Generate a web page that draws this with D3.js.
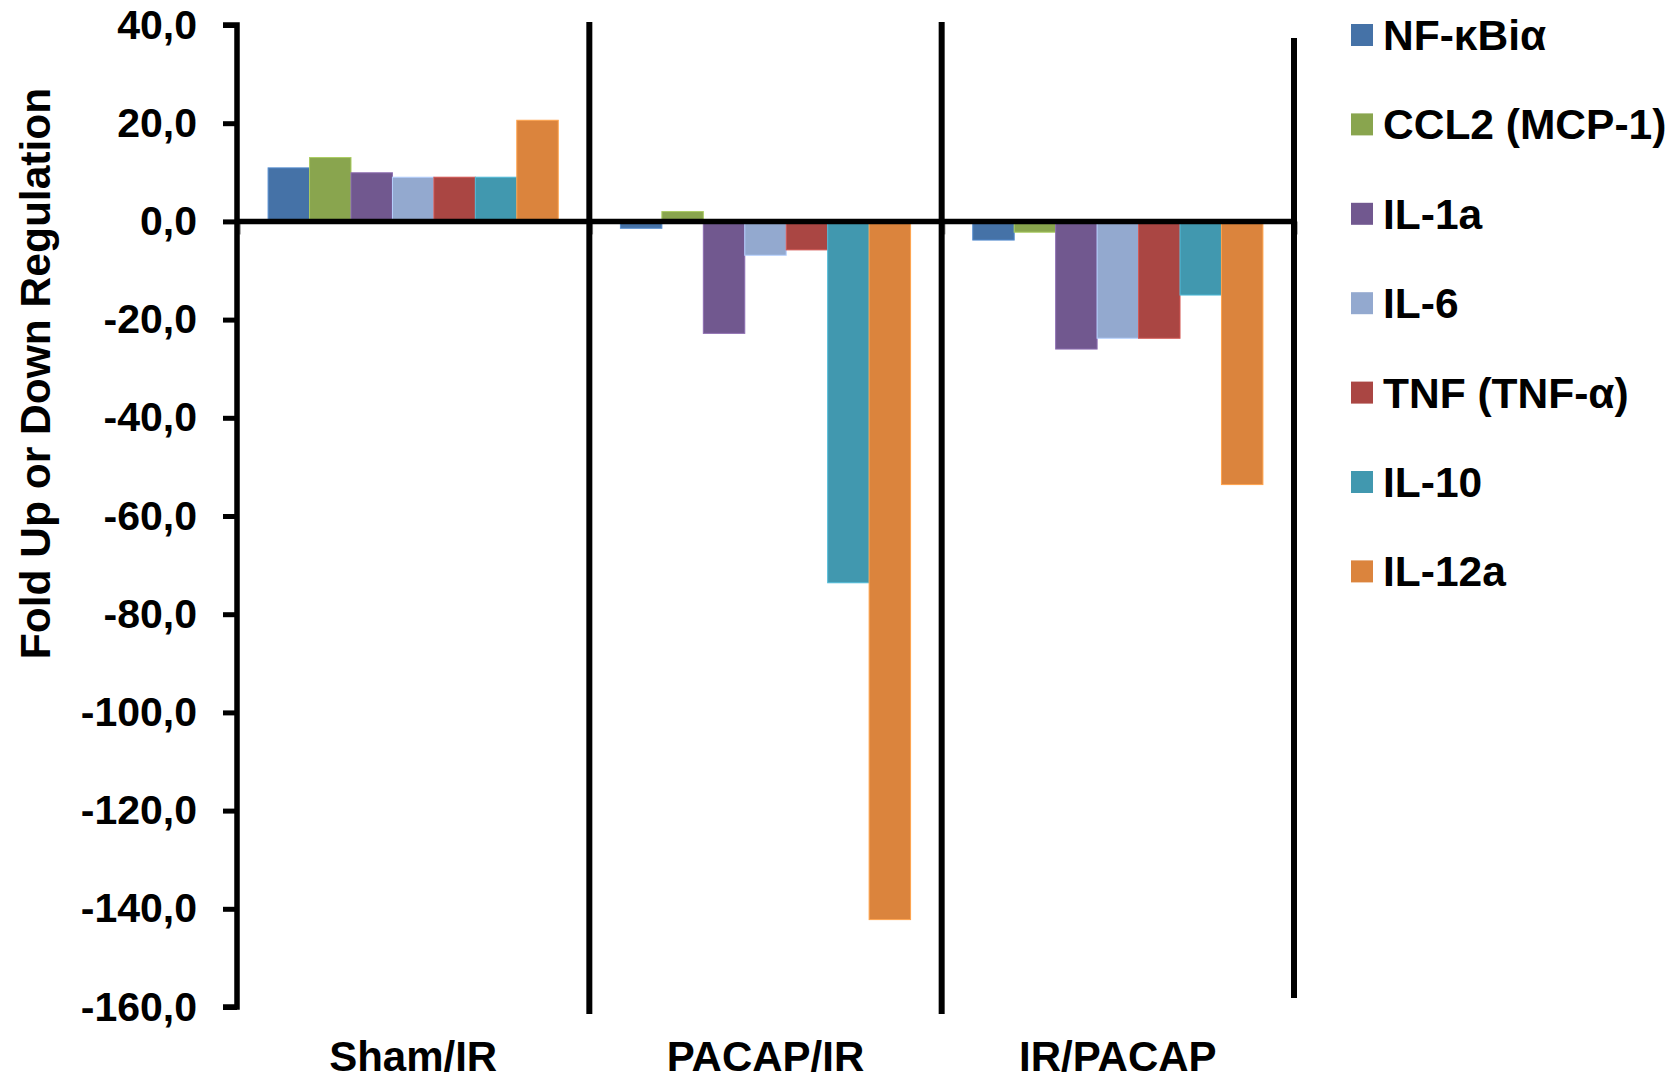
<!DOCTYPE html>
<html>
<head>
<meta charset="utf-8">
<script src="https://cdn.jsdelivr.net/npm/d3@7"></script>
<style>
  html, body { margin: 0; padding: 0; background: #fff; }
  svg { display: block; }
  text { font-family: "Liberation Sans", Arial, Helvetica, sans-serif; font-weight: bold; fill: #000; }
</style>
</head>
<body>
<svg id="chart" width="1677" height="1079"></svg>
<script>
// Comparison groups on the category axis
const groups = ["Sham/IR", "PACAP/IR", "IR/PACAP"];

// Genes (one bar per gene inside each group)
const genes = ["NF-κBiα", "CCL2 (MCP-1)", "IL-1a", "IL-6", "TNF (TNF-α)", "IL-10", "IL-12a"];
const geneColors = ["#4572A7", "#89A54E", "#71588F", "#93A9CF", "#AA4643", "#4198AF", "#DB843D"];

// Fold regulation per gene, one array per group (same order as genes)
const shamIR   = [10.9, 13.0, 9.9, 9.0, 9.0, 9.0, 20.6];
const pacapIR  = [-1.4, 2.0, -22.8, -6.9, -5.8, -73.6, -142.2];
const irPacap  = [-3.8, -2.2, -26.0, -23.8, -23.8, -15.0, -53.6];
const groupValues = [shamIR, pacapIR, irPacap];

// Value axis ticks
const yTicks = [40, 20, 0, -20, -40, -60, -80, -100, -120, -140, -160];
const yTitle = "Fold Up or Down Regulation";

const svg = d3.select("#chart");

const plotLeft = 237, plotRight = 1294, plotTop = 25, plotBottom = 1007;

const y = d3.scaleLinear().domain([-160, 40]).range([plotBottom, plotTop]);
const x0 = d3.scaleBand().domain(groups).range([plotLeft, plotRight]).paddingInner(0).paddingOuter(0);
const x1 = d3.scaleBand().domain(genes).range([0, x0.bandwidth()]).paddingInner(0).paddingOuter(0.75);

// Comma decimals, plain hyphen for negatives
const locale = d3.formatLocale({ decimal: ",", thousands: ".", grouping: [3], currency: ["", ""], minus: "-" });
const fmt = locale.format(".1f");

// Bars
const groupG = svg.append("g").selectAll("g")
  .data(groups)
  .join("g")
  .attr("transform", d => `translate(${x0(d)},0)`);

groupG.selectAll("rect")
  .data((g, gi) => genes.map((gene, i) => ({ gene, value: groupValues[gi][i], color: geneColors[i] })))
  .join("rect")
  .attr("x", d => x1(d.gene))
  .attr("width", x1.bandwidth())
  .attr("y", d => y(Math.max(0, d.value)))
  .attr("height", d => Math.abs(y(d.value) - y(0)))
  .attr("fill", d => d.color)
  .attr("stroke", d => d3.color(d.color).brighter(0.6))
  .attr("stroke-width", 1);

// Faint category tick marks below the zero line
svg.append("g").selectAll("line")
  .data(groups.map(g => x0(g)).concat([plotRight]))
  .join("line")
  .attr("x1", d => d + 3).attr("x2", d => d + 3)
  .attr("y1", y(0)).attr("y2", y(0) + 13)
  .attr("stroke", "#999").attr("stroke-width", 1.5);

// Group separators
const dividers = [x0(groups[1]), x0(groups[2])];
svg.append("g").selectAll("line")
  .data(dividers)
  .join("line")
  .attr("x1", d => d).attr("x2", d => d)
  .attr("y1", 22).attr("y2", 1014)
  .attr("stroke", "#000").attr("stroke-width", 6);

svg.append("line")
  .attr("x1", plotRight).attr("x2", plotRight)
  .attr("y1", 38).attr("y2", 998)
  .attr("stroke", "#000").attr("stroke-width", 6);

// Zero line
svg.append("line")
  .attr("x1", plotLeft).attr("x2", plotRight + 3)
  .attr("y1", y(0)).attr("y2", y(0))
  .attr("stroke", "#000").attr("stroke-width", 5.5);

// Value axis
const yAxis = d3.axisLeft(y).tickValues(yTicks).tickSize(14).tickPadding(26).tickFormat(fmt);
const yG = svg.append("g").attr("transform", `translate(${plotLeft},0)`).call(yAxis);
yG.select(".domain").attr("stroke", "#000").attr("stroke-width", 5.5)
  .attr("d", `M-14,${plotTop}H0V${plotBottom}H-14`);
yG.selectAll(".tick line").attr("stroke", "#000").attr("stroke-width", 5);
yG.selectAll(".tick text")
  .attr("font-family", '"Liberation Sans", Arial, sans-serif')
  .attr("font-weight", "bold")
  .attr("font-size", 41)
  .attr("fill", "#000");

// Value axis title
svg.append("text")
  .attr("transform", `translate(50,${(87 + 660) / 2}) rotate(-90)`)
  .attr("text-anchor", "middle")
  .attr("font-size", 42.5)
  .text(yTitle);

// Category labels
svg.append("g").selectAll("text")
  .data(groups)
  .join("text")
  .attr("x", d => x0(d) + x0.bandwidth() / 2)
  .attr("y", 1071)
  .attr("text-anchor", "middle")
  .attr("font-size", 42)
  .text(d => d);

// Legend
const legend = svg.append("g").attr("transform", "translate(1351,24)");
const rowH = 89.4;
const item = legend.selectAll("g")
  .data(genes)
  .join("g")
  .attr("transform", (d, i) => `translate(0,${i * rowH})`);
item.append("rect")
  .attr("width", 22).attr("height", 22)
  .attr("fill", (d, i) => geneColors[i]);
item.append("text")
  .attr("x", 32).attr("y", 26)
  .attr("font-size", 42.5)
  .text(d => d);
</script>
</body>
</html>
